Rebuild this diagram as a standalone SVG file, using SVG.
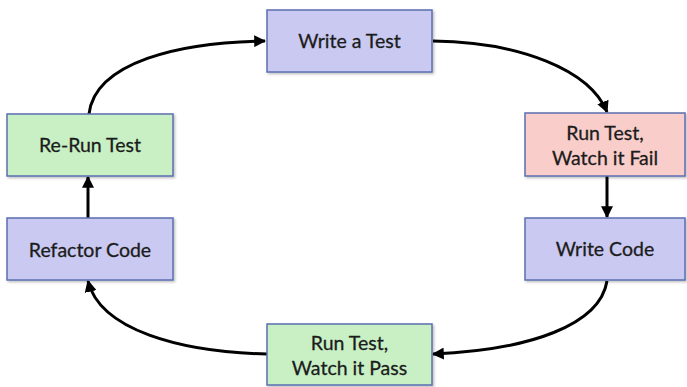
<svg xmlns="http://www.w3.org/2000/svg" width="687" height="387" viewBox="0 0 687 387">
<defs>
<marker id="ah" viewBox="0 0 10 10" refX="9" refY="5" markerWidth="12" markerHeight="12" markerUnits="userSpaceOnUse" orient="auto">
<path d="M0,0 L10,5 L0,10 z" fill="#000"/>
</marker>
<filter id="sh" x="-10%" y="-10%" width="130%" height="130%">
<feDropShadow dx="1.5" dy="1.5" stdDeviation="1" flood-color="#000" flood-opacity="0.25"/>
</filter>
</defs>
<style>
.box{stroke:#5b6fb0;stroke-width:1.5;filter:url(#sh)}
.blue{fill:#c9c9f1}
.pink{fill:#f9cdc9}
.green{fill:#c8f0c4}
text{font-family:Lato,"Open Sans","Liberation Sans",sans-serif;font-size:19.5px;fill:#1c1c1c;text-anchor:middle;stroke:#1c1c1c;stroke-width:0.3}
.c{fill:none;stroke:#000;stroke-width:3;marker-end:url(#ah)}
</style>
<rect width="687" height="387" fill="#fff"/>
<g id="connectors">
<path class="c" d="M89,114 C95,62 180,42 265,41"/>
<path class="c" d="M433,41 C520,42 590,70 607,112"/>
<path class="c" d="M607,176 L607,217"/>
<path class="c" d="M607,281 C600,325 530,350 433,354"/>
<path class="c" d="M267,354 C180,352 100,330 88,281"/>
<path class="c" d="M88,218 L88,177"/>
</g>
<g id="write-test">
<rect class="box blue" x="267" y="10" width="165" height="62"/>
<text x="349.5" y="48">Write a Test</text>
</g>
<g id="run-fail">
<rect class="box pink" x="525" y="113" width="160" height="63"/>
<text x="605" y="140">Run Test,</text>
<text x="605" y="165">Watch it Fail</text>
</g>
<g id="write-code">
<rect class="box blue" x="525" y="218" width="160" height="62"/>
<text x="605" y="256">Write Code</text>
</g>
<g id="run-pass">
<rect class="box green" x="267" y="324" width="165" height="61"/>
<text x="349.5" y="350">Run Test,</text>
<text x="349.5" y="375">Watch it Pass</text>
</g>
<g id="refactor">
<rect class="box blue" x="7" y="218" width="166" height="62"/>
<text x="90" y="257">Refactor Code</text>
</g>
<g id="rerun">
<rect class="box green" x="7" y="114" width="166" height="62"/>
<text x="90" y="152">Re-Run Test</text>
</g>
</svg>
